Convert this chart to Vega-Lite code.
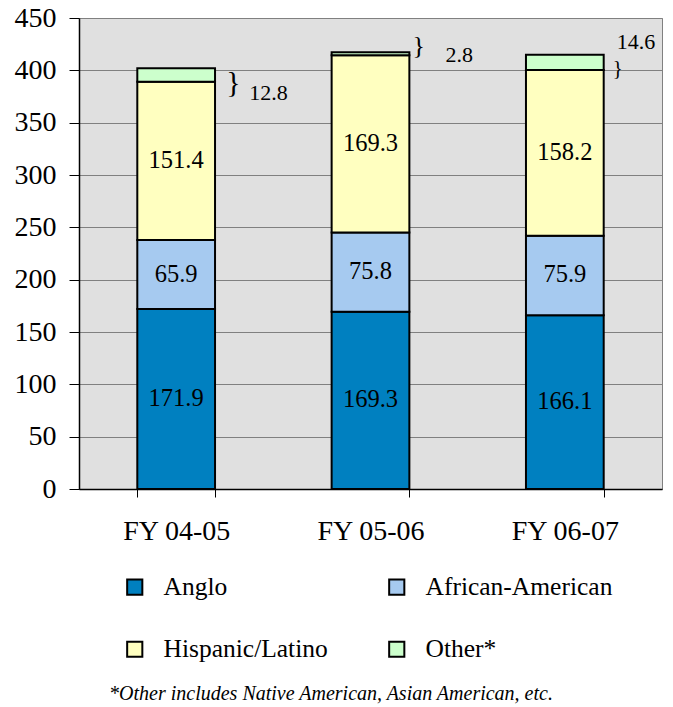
{
  "$schema": "https://vega.github.io/schema/vega-lite/v6.json",
  "width": 583,
  "height": 471,
  "padding": {"left": 14, "top": 4, "right": 5, "bottom": 2},
  "background": "white",
  "config": {
    "font": "Liberation Serif, Times New Roman, serif",
    "view": {"fill": "#e0e0e0", "stroke": "#808080", "strokeWidth": 1},
    "axis": {"labelFont": "Liberation Serif, Times New Roman, serif", "labelColor": "black", "domainColor": "black", "tickColor": "black", "title": null}
  },
  "title": {
    "text": "*Other includes Native American, Asian American, etc.",
    "orient": "bottom",
    "anchor": "middle",
    "frame": "bounds",
    "font": "Liberation Serif, Times New Roman, serif",
    "fontStyle": "italic",
    "fontWeight": "normal",
    "fontSize": 20,
    "color": "black",
    "offset": 21,
    "dx": -7
  },
  "data": {
    "values": [
      {"year": "FY 04-05", "race": "Anglo", "value": 171.9},
      {"year": "FY 04-05", "race": "African-American", "value": 65.9},
      {"year": "FY 04-05", "race": "Hispanic/Latino", "value": 151.4},
      {"year": "FY 04-05", "race": "Other*", "value": 12.8},
      {"year": "FY 05-06", "race": "Anglo", "value": 169.3},
      {"year": "FY 05-06", "race": "African-American", "value": 75.8},
      {"year": "FY 05-06", "race": "Hispanic/Latino", "value": 169.3},
      {"year": "FY 05-06", "race": "Other*", "value": 2.8},
      {"year": "FY 06-07", "race": "Anglo", "value": 166.1},
      {"year": "FY 06-07", "race": "African-American", "value": 75.9},
      {"year": "FY 06-07", "race": "Hispanic/Latino", "value": 158.2},
      {"year": "FY 06-07", "race": "Other*", "value": 14.6}
    ]
  },
  "transform": [
    {"calculate": "indexof(['Anglo','African-American','Hispanic/Latino','Other*'], datum.race)", "as": "ord"},
    {"stack": "value", "groupby": ["year"], "sort": [{"field": "ord", "order": "ascending"}], "as": ["v0", "v1"]},
    {"calculate": "(datum.v0 + datum.v1) / 2", "as": "mid"}
  ],
  "encoding": {
    "x": {
      "field": "year", "type": "nominal",
      "scale": {"paddingInner": 0.6, "paddingOuter": 0.3},
      "axis": {"labelAngle": 0, "labelFontSize": 28, "tickBand": "extent", "tickSize": 8, "labelPadding": 20, "domainWidth": 1.5, "grid": false}
    }
  },
  "layer": [
    {
      "mark": {"type": "bar", "stroke": "black", "strokeWidth": 2},
      "encoding": {
        "y": {
          "field": "v0", "type": "quantitative",
          "scale": {"domain": [0, 450], "nice": false},
          "axis": {"values": [0, 50, 100, 150, 200, 250, 300, 350, 400, 450], "labelFontSize": 28, "tickSize": 10, "labelPadding": 13, "grid": true, "gridColor": "#808080", "gridWidth": 1, "domainWidth": 1.5}
        },
        "y2": {"field": "v1"},
        "color": {
          "field": "race", "type": "nominal",
          "scale": {"domain": ["Anglo", "African-American", "Hispanic/Latino", "Other*"], "range": ["#0080c0", "#a6caf0", "#ffffc0", "#ccffcc"]},
          "legend": {
            "title": null, "orient": "none", "legendX": 43, "legendY": 556, "columns": 2, "direction": "horizontal",
            "symbolType": "square", "symbolSize": 230, "symbolStrokeColor": "black", "symbolStrokeWidth": 2, "symbolOpacity": 1,
            "labelFont": "Liberation Serif, Times New Roman, serif", "labelFontSize": 25.5, "labelColor": "black", "labelOffset": 16, "labelLimit": 0,
            "columnPadding": 56, "rowPadding": 35.5
          }
        }
      }
    },
    {
      "transform": [{"filter": "datum.race != 'Other*'"}],
      "mark": {"type": "text", "font": "Liberation Serif, Times New Roman, serif", "fontSize": 24.5, "color": "black", "baseline": "middle", "align": "center"},
      "encoding": {
        "y": {"field": "mid", "type": "quantitative"},
        "text": {"field": "value", "type": "quantitative", "format": ".1f"}
      }
    },
    {
      "transform": [{"filter": "datum.race == 'Other*' && datum.year == 'FY 04-05'"}],
      "mark": {"type": "text", "text": "}", "font": "Liberation Serif, Times New Roman, serif", "fontSize": 30, "color": "black", "align": "left", "baseline": "middle", "dx": 50, "dy": 15},
      "encoding": {"y": {"field": "v1", "type": "quantitative"}}
    },
    {
      "transform": [{"filter": "datum.race == 'Other*' && datum.year == 'FY 04-05'"}],
      "mark": {"type": "text", "font": "Liberation Serif, Times New Roman, serif", "fontSize": 22, "color": "black", "align": "left", "baseline": "middle", "dx": 73, "dy": 25},
      "encoding": {"y": {"field": "v1", "type": "quantitative"}, "text": {"field": "value", "type": "quantitative", "format": ".1f"}}
    },
    {
      "transform": [{"filter": "datum.race == 'Other*' && datum.year == 'FY 05-06'"}],
      "mark": {"type": "text", "text": "}", "font": "Liberation Serif, Times New Roman, serif", "fontSize": 26, "color": "black", "align": "left", "baseline": "middle", "dx": 42, "dy": -6},
      "encoding": {"y": {"field": "v1", "type": "quantitative"}}
    },
    {
      "transform": [{"filter": "datum.race == 'Other*' && datum.year == 'FY 05-06'"}],
      "mark": {"type": "text", "font": "Liberation Serif, Times New Roman, serif", "fontSize": 22, "color": "black", "align": "left", "baseline": "middle", "dx": 75, "dy": 3},
      "encoding": {"y": {"field": "v1", "type": "quantitative"}, "text": {"field": "value", "type": "quantitative", "format": ".1f"}}
    },
    {
      "transform": [{"filter": "datum.race == 'Other*' && datum.year == 'FY 06-07'"}],
      "mark": {"type": "text", "text": "}", "font": "Liberation Serif, Times New Roman, serif", "fontSize": 21, "color": "black", "align": "left", "baseline": "middle", "dx": 48, "dy": 14},
      "encoding": {"y": {"field": "v1", "type": "quantitative"}}
    },
    {
      "transform": [{"filter": "datum.race == 'Other*' && datum.year == 'FY 06-07'"}],
      "mark": {"type": "text", "font": "Liberation Serif, Times New Roman, serif", "fontSize": 22, "color": "black", "align": "left", "baseline": "middle", "dx": 52, "dy": -13},
      "encoding": {"y": {"field": "v1", "type": "quantitative"}, "text": {"field": "value", "type": "quantitative", "format": ".1f"}}
    }
  ]
}
